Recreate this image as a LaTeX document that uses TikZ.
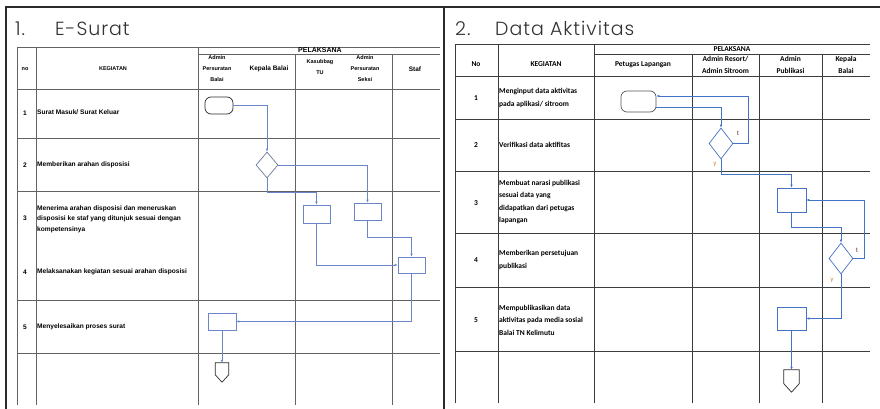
\documentclass[tikz,border=0pt]{standalone}
\usepackage{fontspec}
\setmainfont{Carlito}
\newfontfamily\leftfont{Liberation Sans}
\newfontfamily\titlefont{Poppins Light}[LetterSpace=5]
\usetikzlibrary{arrows.meta,positioning,shapes.geometric,calc}
\definecolor{flowBlue}{HTML}{4472C4}
\definecolor{flowBlueL}{HTML}{6A86C8}
\definecolor{gridGray}{HTML}{3C3C3C}
\definecolor{frameGray}{HTML}{2B2B2B}
\definecolor{titleGray}{HTML}{333333}
\definecolor{tMaroon}{HTML}{7A3B3B}
\definecolor{yOrange}{HTML}{C8823C}

\begin{document}
\begin{tikzpicture}[
  x=1pt, y=-1pt,
  >={Latex[length=3pt,width=2.6pt]},
  % --- Reusable styles -------------------------------------------------------
  frame/.style={draw=frameGray, line width=2pt},
  grid/.style={draw=gridGray, line width=0.9pt},
  gridL/.style={draw=gridGray!80, line width=0.9pt},
  title/.style={font=\titlefont\fontsize{19}{19}\selectfont, text=titleGray,
    inner sep=0, anchor=base west},
  hdr/.style={font=\bfseries\fontsize{7.5}{12.5}\selectfont, align=center, inner sep=0},
  rowtxt/.style={font=\bfseries\fontsize{7.5}{12.5}\selectfont, align=left,
    anchor=west, inner sep=0},
  lhdr/.style={font=\leftfont\bfseries\fontsize{5.5}{11}\selectfont, align=center, inner sep=0},
  lrow/.style={font=\leftfont\bfseries\fontsize{6.6}{10.5}\selectfont, align=left,
    anchor=west, inner sep=0},
  procbox/.style={rectangle, draw=#1, fill=white, line width=0.7pt, inner sep=0,
    minimum width=27pt, minimum height=17pt},
  startterm/.style={rectangle, rounded corners=6pt, draw=#1, fill=white,
    line width=0.7pt, inner sep=0},
  decision/.style={diamond, draw=#1, fill=white, line width=0.7pt, inner sep=0},
  offbox/.style={rectangle, inner sep=0, minimum width=13pt, minimum height=19pt},
  offline/.style={draw=frameGray, line width=0.7pt, fill=white, line join=miter},
  flow/.style={->, draw=flowBlueL, line width=0.6pt},
  flowR/.style={->, draw=flowBlue, line width=0.8pt},
  lblT/.style={font=\fontsize{7}{7}\selectfont, text=tMaroon, inner sep=0},
  lblY/.style={font=\fontsize{7}{7}\selectfont, text=yOrange, inner sep=0},
]
\useasboundingbox (0,0) rectangle (880,409);

% --- Frame and titles --------------------------------------------------------
\draw[frame] (6,409) -- (6,7) -- (880,7);
\draw[frame] (444,7) -- (444,409);
\node[title] (numA) at (15,36) {1.};
\node[title] (ttlA) at (55,36) {E-Surat};
\node[title] (numB) at (455,36) {2.};
\node[title] (ttlB) at (495,36) {Data Aktivitas};

% --- Table 1: grid -----------------------------------------------------------
\draw[gridL] (17,47) -- (440,47) (198,54) -- (440,54);
\foreach \y in {89,138,191,300,353} \draw[gridL] (17,\y) -- (440,\y);
\draw[gridL] (17,47) -- (17,405) (36,47) -- (36,405) (198,47) -- (198,405)
  (295,54) -- (295,405) (392,54) -- (392,405);

% --- Table 1: texts ----------------------------------------------------------
\node[lhdr] (hNoA) at (25,69) {no};
\node[lhdr] (hKgA) at (113,69) {KEGIATAN};
\node[lhdr, font=\leftfont\bfseries\fontsize{7}{11}\selectfont] (hPlA) at (320,50) {PELAKSANA};
\node[lhdr] (hApb) at (217,69) {Admin\\Persuratan\\Balai};
\node[lhdr, font=\leftfont\bfseries\fontsize{6.5}{11}\selectfont] (hKpb) at (269,69) {Kepala Balai};
\node[lhdr] (hKtu) at (320,67) {Kasubbag\\TU};
\node[lhdr] (hAps) at (365,69) {Admin\\Persuratan\\Seksi};
\node[lhdr, font=\leftfont\bfseries\fontsize{6.5}{11}\selectfont] (hStf) at (415,69) {Staf};

\node[lrow, anchor=center] (nA1) at (25,113) {1};
\node[lrow, anchor=center] (nA2) at (25,165) {2};
\node[lrow, anchor=center] (nA3) at (25,218) {3};
\node[lrow, anchor=center] (nA4) at (25,272) {4};
\node[lrow, anchor=center] (nA5) at (25,327) {5};
\node[lrow] (rA1) at (37,112) {Surat Masuk/ Surat Keluar};
\node[lrow] (rA2) at (37,165) {Memberikan arahan disposisi};
\node[lrow] (rA3) at (37,219) {Menerima arahan disposisi dan meneruskan\\disposisi ke staf yang ditunjuk sesuai dengan\\kompetensinya};
\node[lrow] (rA4) at (37,272) {Melaksanakan kegiatan sesuai arahan disposisi};
\node[lrow] (rA5) at (37,327) {Menyelesaikan proses surat};

% --- Table 1: flow -----------------------------------------------------------
\node[startterm=frameGray, minimum width=28pt, minimum height=17pt] (sm) at (219,105.5) {};
\node[decision=gray!60!flowBlue, minimum width=22pt, minimum height=26pt] (ad) at (267,165) {};
\node[procbox=flowBlueL, minimum height=18pt] (kt) at (316.5,214) {};
\node[procbox=flowBlueL] (ap) at (367.5,211.5) {};
\node[procbox=flowBlueL, minimum height=16pt] (sf) at (411.5,265) {};
\node[procbox=flowBlueL, minimum width=28pt] (ps) at (222,321.5) {};
\node[offbox] (ok) at (222,372.5) {};
\draw[offline] (ok.north west) -- (ok.north east)
  -- ($(ok.north east)!0.62!(ok.south east)$) -- (ok.south)
  -- ($(ok.north west)!0.62!(ok.south west)$) -- cycle;

\coordinate (adDrop) at (267,192);
\coordinate (apDrop) at (367.5,237);
\draw[flow] (sm.east) -| (ad.north);
\draw[flow] (ad.east) -| (ap.north);
\draw[flow] (ad.south) -- (adDrop) -| (kt.north);
\draw[flow] (kt.south) |- (sf.west);
\draw[flow] (ap.south) -- (apDrop) -| (sf.north);
\draw[flow] (sf.south) |- (ps.east);
\draw[flow] (ps.south) -- (ok.north);

% --- Table 2: grid -----------------------------------------------------------
\draw[grid] (455,44) -- (870,44) (594,54) -- (870,54);
\foreach \y in {76,119,171,233,287,351} \draw[grid] (455,\y) -- (870,\y);
\draw[grid] (455,44) -- (455,403) (498,44) -- (498,403) (594,44) -- (594,403)
  (692,54) -- (692,403) (759,54) -- (759,403) (822,54) -- (822,403);

% --- Table 2: texts ----------------------------------------------------------
\node[hdr] (hNoB) at (476,64) {No};
\node[hdr] (hKgB) at (546,64) {KEGIATAN};
\node[hdr] (hPlB) at (732,49) {PELAKSANA};
\node[hdr] (hPtg) at (643,65) {Petugas Lapangan};
\node[hdr] (hAdr) at (725.5,65) {Admin Resort/\\Admin Sitroom};
\node[hdr] (hAdp) at (790.5,65) {Admin\\Publikasi};
\node[hdr] (hKpl) at (846,65) {Kepala\\Balai};

\node[hdr] (nB1) at (476,98) {1};
\node[hdr] (nB2) at (476,145) {2};
\node[hdr] (nB3) at (476,203) {3};
\node[hdr] (nB4) at (476,260) {4};
\node[hdr] (nB5) at (476,320) {5};
\node[rowtxt] (rB1) at (499,98) {Menginput data aktivitas\\pada aplikasi/ sitroom};
\node[rowtxt] (rB2) at (499,145) {Verifikasi data aktifitas};
\node[rowtxt] (rB3) at (499,202) {Membuat narasi publikasi\\sesuai data yang\\didapatkan dari petugas\\lapangan};
\node[rowtxt] (rB4) at (499,260) {Memberikan persetujuan\\publikasi};
\node[rowtxt] (rB5) at (499,320) {Mempublikasikan data\\aktivitas pada media sosial\\Balai TN Kelimutu};

% --- Table 2: flow -----------------------------------------------------------
\node[startterm=frameGray!80, minimum width=35pt, minimum height=21pt] (inp) at (638.5,101.5) {};
\node[decision=flowBlue, minimum width=24pt, minimum height=31pt] (ver) at (721,143.5) {};
\node[procbox=flowBlue, minimum width=29pt, minimum height=24pt] (nar) at (791.5,200) {};
\node[decision=flowBlue, minimum width=24pt, minimum height=31pt] (apv) at (841,258.5) {};
\node[procbox=flowBlue, minimum width=29pt, minimum height=23pt] (pub) at (791.5,318.5) {};
\node[offbox, minimum width=15pt, minimum height=22pt] (opc) at (791.5,381) {};
\draw[offline] (opc.north west) -- (opc.north east)
  -- ($(opc.north east)!0.62!(opc.south east)$) -- (opc.south)
  -- ($(opc.north west)!0.62!(opc.south west)$) -- cycle;

\draw[flowR] ([yshift=-5.5pt]inp.east) -| (ver.north);
\draw[flowR] (ver.east) -- ++(15,0) |- ([yshift=5.5pt]inp.east);
\draw[flowR] (ver.south) -- ++(0,15) -| (nar.north);
\draw[flowR] (nar.south) -- ++(0,15) -| (apv.north);
\draw[flowR] (apv.east) -- ++(11,0) |- (nar.east);
\draw[flowR] (apv.south) |- (pub.east);
\draw[flowR] (pub.south) -- (opc.north);
\node[lblT] (tVer) at (738,133) {t};
\node[lblY] (yVer) at (715,164) {y};
\node[lblT] (tApv) at (857,250) {t};
\node[lblY] (yApv) at (832,280) {y};

\end{tikzpicture}
\end{document}
